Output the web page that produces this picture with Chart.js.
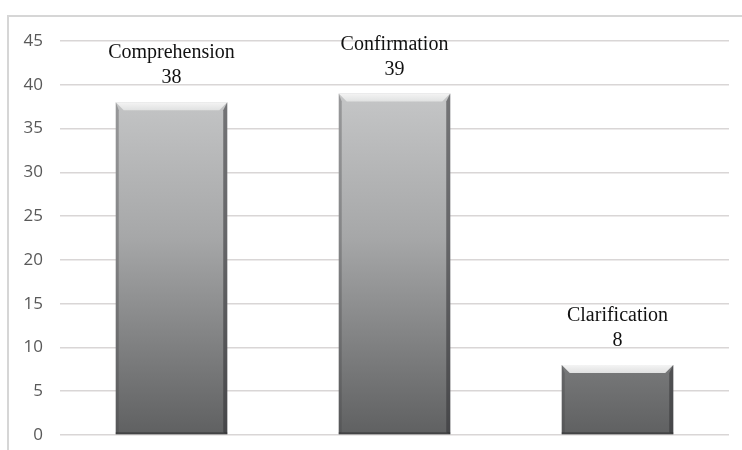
<!DOCTYPE html>
<html>
<head>
<meta charset="utf-8">
<script src="https://cdn.jsdelivr.net/npm/chart.js@4"></script>
<style>
    html, body { margin: 0; padding: 0; background: #fff; }
    #wrap { width: 742px; height: 450px; }
</style>
</head>
<body>
<div id="wrap"><canvas id="myChart" width="742" height="450"></canvas></div>
<script>
const categorias = ['Comprehension', 'Confirmation', 'Clarification'];
const valores = [38, 39, 8];
const ejeMin = 0;
const ejeMax = 45;
const ejePaso = 5;

// marco gris claro alrededor del grafico
const marco = {
    id: 'marco',
    beforeDraw(chart) {
        const ctx = chart.ctx;
        ctx.save();
        ctx.fillStyle = '#ffffff';
        ctx.fillRect(0, 0, chart.width, chart.height);
        ctx.strokeStyle = '#d6d6d6';
        ctx.lineWidth = 2;
        ctx.beginPath();
        ctx.moveTo(chart.width + 5, 16);
        ctx.lineTo(8, 16);
        ctx.lineTo(8, chart.height + 5);
        ctx.stroke();
        ctx.restore();
    }
};

// bisel de las barras
const bisel = {
    id: 'bisel',
    afterDatasetsDraw(chart) {
        const ctx = chart.ctx;
        const meta = chart.getDatasetMeta(0);
        ctx.save();
        for (const bar of meta.data) {
            const l = bar.x - bar.width / 2;
            const r = bar.x + bar.width / 2;
            const t = bar.y;
            const b = bar.base;
            const s = 8;
            // arriba
            const g = ctx.createLinearGradient(0, t, 0, t + s);
            g.addColorStop(0, '#f4f4f4');
            g.addColorStop(1, '#e0e1e1');
            ctx.fillStyle = g;
            ctx.beginPath();
            ctx.moveTo(l, t);
            ctx.lineTo(r, t);
            ctx.lineTo(r - s, t + s);
            ctx.lineTo(l + s, t + s);
            ctx.closePath();
            ctx.fill();
            // izquierda
            ctx.fillStyle = 'rgba(70,70,72,0.35)';
            ctx.beginPath();
            ctx.moveTo(l, t);
            ctx.lineTo(l + 3, t + s);
            ctx.lineTo(l + 3, b - 2);
            ctx.lineTo(l, b);
            ctx.closePath();
            ctx.fill();
            // derecha
            ctx.fillStyle = 'rgba(50,50,52,0.55)';
            ctx.beginPath();
            ctx.moveTo(r, t);
            ctx.lineTo(r - 4, t + s);
            ctx.lineTo(r - 4, b - 2);
            ctx.lineTo(r, b);
            ctx.closePath();
            ctx.fill();
            // abajo
            ctx.fillStyle = 'rgba(40,40,42,0.5)';
            ctx.fillRect(l, b - 2, r - l, 2);
        }
        ctx.restore();
    }
};

// etiquetas encima de cada barra
const etiquetas = {
    id: 'etiquetas',
    afterDatasetsDraw(chart) {
        const ctx = chart.ctx;
        const meta = chart.getDatasetMeta(0);
        ctx.save();
        ctx.fillStyle = '#111111';
        ctx.font = '20px "Liberation Serif", "Times New Roman", serif';
        ctx.textAlign = 'center';
        ctx.textBaseline = 'alphabetic';
        meta.data.forEach((bar, i) => {
            ctx.fillText(String(valores[i]), bar.x, bar.y - 19);
            ctx.fillText(categorias[i], bar.x, bar.y - 44);
        });
        ctx.restore();
    }
};

const ctx = document.getElementById('myChart');
const myChart = new Chart(ctx, {
    type: 'bar',
    data: {
        labels: categorias,
        datasets: [{
            data: valores,
            backgroundColor: (c) => {
                const chart = c.chart;
                const area = chart.chartArea;
                if (!area) return '#a0a1a2';
                const el = chart.getDatasetMeta(0).data[c.dataIndex];
                const top = el && el.y ? el.y : area.top;
                const bottom = el && el.base ? el.base : area.bottom;
                const g = chart.ctx.createLinearGradient(0, top, 0, bottom);
                g.addColorStop(0, '#d0d1d2');
                g.addColorStop(0.5, '#a6a7a8');
                g.addColorStop(1, '#5f6061');
                return g;
            },
            borderWidth: 0,
            barPercentage: 0.5,
            categoryPercentage: 1
        }]
    },
    options: {
        responsive: false,
        animation: false,
        layout: {
            padding: { top: 41, right: 13, bottom: 15, left: 0 }
        },
        plugins: {
            legend: { display: false },
            tooltip: { enabled: false }
        },
        scales: {
            x: {
                display: false
            },
            y: {
                min: ejeMin,
                max: ejeMax,
                afterFit(scale) { scale.width = 60; },
                border: { display: false },
                grid: {
                    color: '#d9d6d6',
                    lineWidth: 1.5,
                    drawTicks: true,
                    tickLength: 17,
                    tickColor: 'rgba(0,0,0,0)'
                },
                ticks: {
                    stepSize: ejePaso,
                    padding: 0,
                    color: '#595959',
                    font: { family: '"Open Sans", sans-serif', size: 17 }
                }
            }
        }
    },
    plugins: [marco, bisel, etiquetas]
});
</script>
</body>
</html>
